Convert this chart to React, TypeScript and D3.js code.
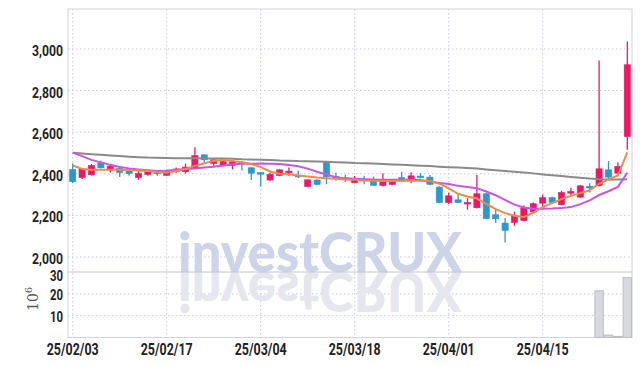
import React from "react";
import * as d3 from "d3";

const openP = [2420,2382,2395,2454,2418,2427,2414,2382,2397,2407,2393,2411,2410,2426,2491,2450,2442,2440,2456,2429,2406,2370,2392,2405,2392,2339,2370,2458,2387,2380,2358,2374,2370,2344,2349,2381,2370,2389,2384,2336,2262,2275,2256,2237,2304,2203,2163,2166,2175,2217,2259,2285,2252,2307,2288,2339,2344,2419,2403,2579];
const highP = [2450,2428,2447,2464,2448,2430,2420,2415,2420,2415,2420,2430,2449,2528,2493,2472,2465,2462,2460,2432,2408,2406,2422,2430,2415,2373,2374,2460,2405,2395,2389,2390,2386,2403,2375,2410,2408,2403,2394,2340,2310,2304,2283,2394,2306,2227,2187,2218,2249,2262,2300,2290,2319,2333,2346,2355,2945,2461,2454,3036];
const lowP = [2355,2375,2392,2425,2406,2384,2390,2371,2390,2390,2390,2405,2401,2422,2454,2435,2435,2421,2416,2370,2339,2366,2388,2390,2380,2335,2346,2350,2366,2360,2355,2350,2344,2339,2345,2362,2355,2378,2345,2258,2255,2260,2227,2233,2183,2163,2070,2150,2172,2214,2240,2255,2248,2294,2285,2310,2339,2377,2400,2515];
const closeP = [2362,2423,2440,2429,2437,2406,2401,2401,2410,2402,2414,2423,2432,2487,2467,2467,2458,2458,2448,2403,2398,2397,2419,2413,2386,2371,2349,2386,2379,2375,2376,2370,2344,2363,2368,2366,2390,2381,2349,2262,2294,2262,2262,2304,2185,2184,2128,2198,2237,2256,2285,2262,2310,2315,2342,2333,2424,2384,2435,2924];
const volume = [0,0,0,0,0,0,0,0,0,0,0,0,0,0,0,0,0,0,0,0,0,0,0,0,0,0,0,0,0,0,0,0,0,0,0,0,0,0,0,0,0,0,0,0,0,0,0,0,0,0,0,0,0,0,0,0,21.4,1.1,0.5,27.4];

const maShort = [2440,2423,2420,2419,2419,2419,2418,2416,2413,2408,2405,2413,2423,2438,2451,2462,2467,2462,2456,2447,2432,2411,2400,2398,2392,2387,2382,2379,2376,2372,2371,2368,2366,2365,2365,2366,2366,2367,2366,2353,2330,2304,2291,2281,2256,2230,2211,2198,2192,2214,2240,2259,2278,2294,2307,2321,2352,2373,2392,2503];
const maMid = [2502,2485,2467,2455,2443,2433,2426,2421,2417,2414,2415,2419,2423,2426,2430,2434,2440,2446,2448,2448,2449,2448,2447,2442,2436,2425,2410,2397,2384,2378,2376,2374,2372,2371,2371,2371,2371,2370,2362,2356,2351,2342,2336,2331,2315,2297,2275,2252,2238,2232,2232,2233,2235,2240,2254,2272,2298,2316,2337,2405];
const maLong = [2501,2497,2494,2491,2488,2485,2482,2480,2478,2477,2476,2475,2475,2475,2474,2474,2473,2472,2470,2469,2467,2466,2464,2463,2461,2460,2459,2458,2456,2454,2452,2451,2449,2447,2445,2443,2441,2439,2437,2434,2432,2430,2428,2425,2421,2417,2413,2410,2406,2402,2397,2393,2389,2385,2381,2377,2374,2373,2373,2374];

const xTickIndex = [0, 10, 20, 30, 40, 50];
const xTickLabels = ["25/02/03", "25/02/17", "25/03/04", "25/03/18", "25/04/01", "25/04/15"];
const priceTicks = [2000, 2200, 2400, 2600, 2800, 3000];
const volTicks = [10, 20, 30];

const W = 642, H = 366;
const L = 68, R = 632, T = 9, PB = 272, VB = 337.5;
const UP = "#e8196b", DOWN = "#2f97c9";
const GRID = "#c6c9dc";
const FONT = "'Roboto', 'DejaVu Sans', sans-serif";

export default function App() {
  const idx = d3.range(openP.length);
  const x = d3.scaleBand<number>().domain(idx).range([L, R]).padding(0);
  const bw = x.bandwidth();
  const cx = (i: number) => (x(i) as number) + bw / 2;
  const y = d3.scaleLinear().domain([1928, 3192]).range([PB, T]);
  const yv = d3.scaleLinear().domain([0, 30]).range([VB, PB]);
  const line = (arr: number[]) =>
    d3.line<number>().x((_, i) => cx(i)).y((d) => y(d))(arr) as string;
  const body = bw * 0.66;
  const fmt = d3.format(",");

  return (
    <svg width={W} height={H} style={{ position: "absolute", left: 0, top: 0, background: "#fff" }}>
      {/* grid */}
      {priceTicks.map((t) => (
        <line key={"pg" + t} x1={L} x2={R} y1={y(t)} y2={y(t)} stroke={GRID} strokeDasharray="1.5,2.5" />
      ))}
      {volTicks.filter((t) => t < 30).map((t) => (
        <line key={"vg" + t} x1={L} x2={R} y1={yv(t)} y2={yv(t)} stroke={GRID} strokeDasharray="1.5,2.5" />
      ))}
      {xTickIndex.map((t) => (
        <line key={"xg" + t} x1={cx(t)} x2={cx(t)} y1={T} y2={VB} stroke={GRID} strokeDasharray="1.5,2.5" />
      ))}
      {/* watermark */}
      <g fontFamily="Lato, 'Open Sans', sans-serif" fontWeight={900} fontSize={56}>
        <text x={178} y={PB} fill="#cdd3e8" textLength={284} lengthAdjust="spacingAndGlyphs">investCRUX</text>
        <text x={178} y={PB} fill="#e5e6ee" textLength={284} lengthAdjust="spacingAndGlyphs"
          transform={`translate(0,${2 * PB}) scale(1,-1)`}>investCRUX</text>
      </g>
      {/* frame */}
      <rect x={L} y={T} width={R - L} height={VB - T} fill="none" stroke="#d2d3dc" />
      <line x1={L} x2={R} y1={PB} y2={PB} stroke="#c4c5d0" />
      {/* volume */}
      {volume.map((v, i) =>
        v > 0 ? (
          <rect key={"v" + i} x={(x(i) as number) + 0.5} y={yv(v)} width={bw - 1} height={VB - yv(v)}
            fill="#d8d8e0" stroke="#bcbcc8" strokeWidth={1} />
        ) : null
      )}
      {/* candles */}
      {idx.map((i) => {
        const up = closeP[i] >= openP[i];
        const c = up ? UP : DOWN;
        const top = y(Math.max(openP[i], closeP[i]));
        const bot = y(Math.min(openP[i], closeP[i]));
        return (
          <g key={"c" + i}>
            <line x1={cx(i)} x2={cx(i)} y1={y(highP[i])} y2={y(lowP[i])} stroke={c} strokeWidth={1.3} />
            <rect x={cx(i) - body / 2} y={top} width={body} height={Math.max(1.5, bot - top)} fill={c} stroke={c} strokeWidth={0.6} />
          </g>
        );
      })}
      {/* moving averages */}
      <path d={line(maLong)} fill="none" stroke="#8a8a8a" strokeWidth={2} />
      <path d={line(maMid)} fill="none" stroke="#c756e6" strokeWidth={2} />
      <path d={line(maShort)} fill="none" stroke="#f2874a" strokeWidth={2} />
      {/* axes labels */}
      <g fontFamily={FONT} fontWeight="bold" fill="#222">
        {priceTicks.map((t) => (
          <text key={"pt" + t} x={63} y={y(t) + 7} fontSize={14} textAnchor="end"
            textLength={31} lengthAdjust="spacingAndGlyphs">{fmt(t)}</text>
        ))}
        {volTicks.map((t) => (
          <text key={"vt" + t} x={63} y={yv(t) + (t === 30 ? 8.5 : 6)} fontSize={14} textAnchor="end"
            textLength={13} lengthAdjust="spacingAndGlyphs">{t}</text>
        ))}
        {xTickIndex.map((t, k) => (
          <text key={"xt" + k} x={cx(t)} y={355} fontSize={17} textAnchor="middle"
            textLength={52} lengthAdjust="spacingAndGlyphs">{xTickLabels[k]}</text>
        ))}
      </g>
      <text transform="translate(38,311) rotate(-90)" fontFamily="'DejaVu Serif', serif" fontSize={14} fill="#555">
        10<tspan dy={-6} fontSize={10}>6</tspan>
      </text>
    </svg>
  );
}
